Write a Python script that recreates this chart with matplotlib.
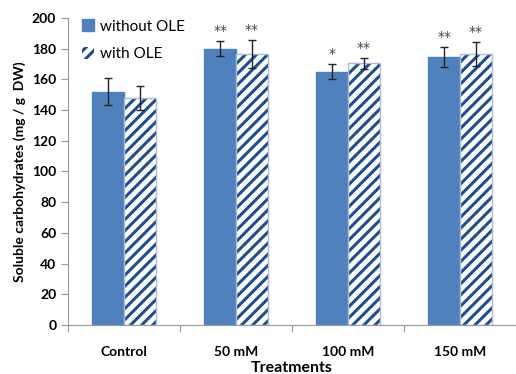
import matplotlib.pyplot as plt
import numpy as np

plt.rcParams['font.family'] = ['Lato', 'DejaVu Sans']
plt.rcParams['hatch.linewidth'] = 2.2

categories = ['Control', '50 mM', '100 mM', '150 mM']
without_ole = [152, 180, 165, 174.5]
without_err = [9, 5, 5, 6.5]
with_ole = [148, 176.5, 170.5, 176.5]
with_err = [8, 9, 3.5, 8]
stars_without = ['', '**', '*', '**']
stars_with = ['', '**', '**', '**']

fig = plt.figure(figsize=(5.16, 3.74), dpi=100)
ax = fig.add_axes([0.132, 0.131, 0.868, 0.821])

x = np.arange(len(categories))
w = 0.285
ax.bar(x - w/2, without_ole, w, color='#4f81bd', edgecolor='#4f81bd',
       label='without OLE', yerr=without_err, capsize=3,
       error_kw=dict(ecolor='#222222', elinewidth=1, capthick=1))
ax.bar(x + w/2, with_ole, w, color='white', edgecolor='#1f4e8c', hatch='///',
       linewidth=0, label='with OLE', yerr=with_err, capsize=3,
       error_kw=dict(ecolor='#222222', elinewidth=1, capthick=1))
ax.bar(x + w/2, with_ole, w, fill=False, edgecolor='#a9bcd9', linewidth=1)

for i in range(len(categories)):
    if stars_without[i]:
        ax.text(x[i] - w/2, without_ole[i] + without_err[i] + 2, stars_without[i],
                ha='center', va='bottom', fontsize=10, color='#444444',
                family='DejaVu Sans')
    if stars_with[i]:
        ax.text(x[i] + w/2, with_ole[i] + with_err[i] + 2, stars_with[i],
                ha='center', va='bottom', fontsize=10, color='#444444',
                family='DejaVu Sans')

ax.set_xlim(-0.5, 3.5)
ax.set_ylim(0, 200)
ax.set_yticks(np.arange(0, 201, 20))
ax.set_xticks(np.arange(-0.5, 3.6, 1))
ax.set_xticklabels([])
ax.set_xticks(x, minor=True)
ax.set_xticklabels(categories, minor=True, fontweight='bold', fontsize=10)
ax.tick_params(axis='x', which='minor', length=0, pad=15)
ax.tick_params(axis='x', which='major', length=5, color='#999999')
ax.tick_params(axis='y', length=5, color='#999999', labelsize=10)
for lbl in ax.get_yticklabels():
    lbl.set_fontweight('bold')
ax.spines['top'].set_visible(False)
ax.spines['right'].set_visible(False)
ax.spines['left'].set_color('#999999')
ax.spines['bottom'].set_color('#999999')

ax.set_xlabel('Treatments', fontweight='bold', fontsize=11.5, labelpad=2)
ax.set_ylabel('Soluble carbohydrates (mg / g  DW)', fontweight='bold', fontsize=10)

ax.legend(loc='upper left', bbox_to_anchor=(0.0, 1.04), frameon=False,
          fontsize=11, handlelength=0.8, handleheight=0.8, labelspacing=0.9,
          handletextpad=0.4)

fig.savefig('out.png', dpi=100)
